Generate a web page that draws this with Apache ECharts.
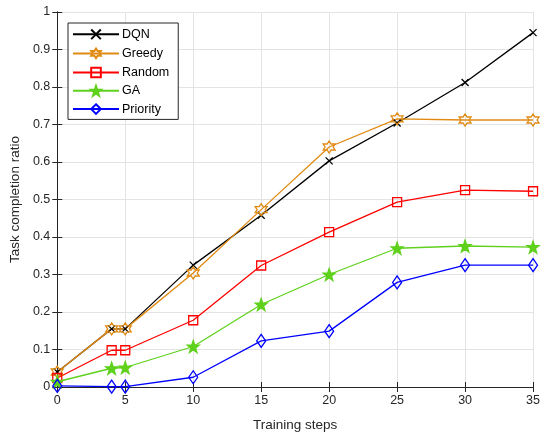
<!DOCTYPE html>
<html>
<head>
<meta charset="utf-8">
<script src="https://cdn.jsdelivr.net/npm/echarts@6/dist/echarts.min.js"></script>
<style>
  html, body { margin: 0; padding: 0; background: #fff; }
  #chart { width: 543px; height: 437px; }
</style>
</head>
<body>
<div id="chart"></div>
<script>
// Training steps at which each method was evaluated
const steps = [0, 4, 5, 10, 15, 20, 25, 30, 35];

// Task completion ratio per method
const dqn      = [0.040, 0.155, 0.155, 0.325, 0.458, 0.603, 0.704, 0.812, 0.945];
const greedy   = [0.040, 0.155, 0.155, 0.304, 0.473, 0.640, 0.715, 0.712, 0.712];
const randomM  = [0.024, 0.098, 0.098, 0.178, 0.324, 0.413, 0.493, 0.525, 0.522];
const ga       = [0.014, 0.050, 0.052, 0.108, 0.220, 0.300, 0.370, 0.376, 0.373];
const priority = [0.003, 0.001, 0.001, 0.026, 0.123, 0.149, 0.279, 0.325, 0.325];

const names  = ['DQN', 'Greedy', 'Random', 'GA', 'Priority'];
const xTicks = [0, 5, 10, 15, 20, 25, 30, 35];

// Marker shapes
function starPath(n, rOuter, rInner) {
  const pts = [];
  for (let i = 0; i < 2 * n; i++) {
    const r = i % 2 === 0 ? rOuter : rInner;
    const a = -Math.PI / 2 + i * Math.PI / n;
    pts.push((50 + r * Math.cos(a)).toFixed(2) + ',' + (50 + r * Math.sin(a)).toFixed(2));
  }
  return 'path://M' + pts.join('L') + 'Z';
}
const crossSym     = 'path://M0,0L10,10M10,0L0,10';
const hexagramSym  = starPath(6, 50, 28.9);
const pentagramSym = starPath(5, 50, 20);

const AX = '#262626';
const FONT = 'Liberation Sans, Arial, Helvetica, sans-serif';

function pairs(vals) { return steps.map((s, i) => [s, vals[i]]); }

function line(name, vals, color, symbol, size, fill) {
  return {
    name, type: 'line', data: pairs(vals),
    symbol, symbolSize: size,
    showAllSymbol: true,
    lineStyle: { color, width: 1.3 },
    itemStyle: { color: fill, borderColor: color, borderWidth: 1.3 },
    emphasis: { disabled: true },
    animation: false
  };
}

const chart = echarts.init(document.getElementById('chart'));
chart.setOption({
  backgroundColor: '#fff',
  textStyle: { fontFamily: FONT },
  grid: { left: 57, right: 7, top: 12, bottom: 49 },
  legend: {
    left: 68, top: 23,
    orient: 'vertical',
    data: names,
    backgroundColor: '#fff',
    borderColor: '#262626', borderWidth: 1,
    padding: [4, 9, 3, 4],
    itemGap: 4.5,
    itemWidth: 46, itemHeight: 12,
    textStyle: { fontSize: 12.5, color: '#000', fontFamily: FONT, padding: [0, 0, 0, -2] }
  },
  xAxis: [{
    type: 'value', min: 0, max: 35, interval: 5,
    name: 'Training steps', nameLocation: 'middle', nameGap: 31,
    nameTextStyle: { fontSize: 13.5, color: AX, fontFamily: FONT },
    axisLine: { lineStyle: { color: AX, width: 1 } },
    axisTick: { inside: true, length: 5, lineStyle: { color: AX } },
    axisLabel: { fontSize: 12.5, color: AX, margin: 7,
      formatter: v => xTicks.includes(v) ? String(v) : '' },
    splitLine: { show: true, lineStyle: { color: '#e3e3e3', width: 1 } }
  }, {
    type: 'value', min: 0, max: 35, interval: 5, position: 'top',
    axisLine: { show: true, lineStyle: { color: AX, width: 1 } },
    axisTick: { show: true, inside: true, length: 5, lineStyle: { color: AX } },
    axisLabel: { show: false }, splitLine: { show: false }
  }],
  yAxis: [{
    type: 'value', min: 0, max: 1, interval: 0.1,
    name: 'Task completion ratio', nameLocation: 'middle', nameGap: 33,
    nameTextStyle: { fontSize: 13.5, color: AX, fontFamily: FONT },
    axisLine: { show: true, lineStyle: { color: AX, width: 1 } },
    axisTick: { show: true, inside: true, length: 5, lineStyle: { color: AX } },
    axisLabel: { fontSize: 12.5, color: AX, margin: 7,
      formatter: v => String(Math.round(v * 10) / 10) },
    splitLine: { show: true, lineStyle: { color: '#e3e3e3', width: 1 } }
  }, {
    type: 'value', min: 0, max: 1, interval: 0.1, position: 'right',
    axisLine: { show: true, lineStyle: { color: AX, width: 1 } },
    axisTick: { show: true, inside: true, length: 5, lineStyle: { color: AX } },
    axisLabel: { show: false }, splitLine: { show: false }
  }],
  series: [
    line('DQN', dqn, '#000000', crossSym, 7, 'none'),
    line('Greedy', greedy, '#e08a12', hexagramSym, 12, 'none'),
    line('Random', randomM, '#ff0000', 'rect', 9, 'none'),
    line('GA', ga, '#5fd11c', pentagramSym, 12, '#5fd11c'),
    line('Priority', priority, '#0000ff', 'path://M5,0L10,7L5,14L0,7Z', [9, 13], 'none')
  ]
});
</script>
</body>
</html>
